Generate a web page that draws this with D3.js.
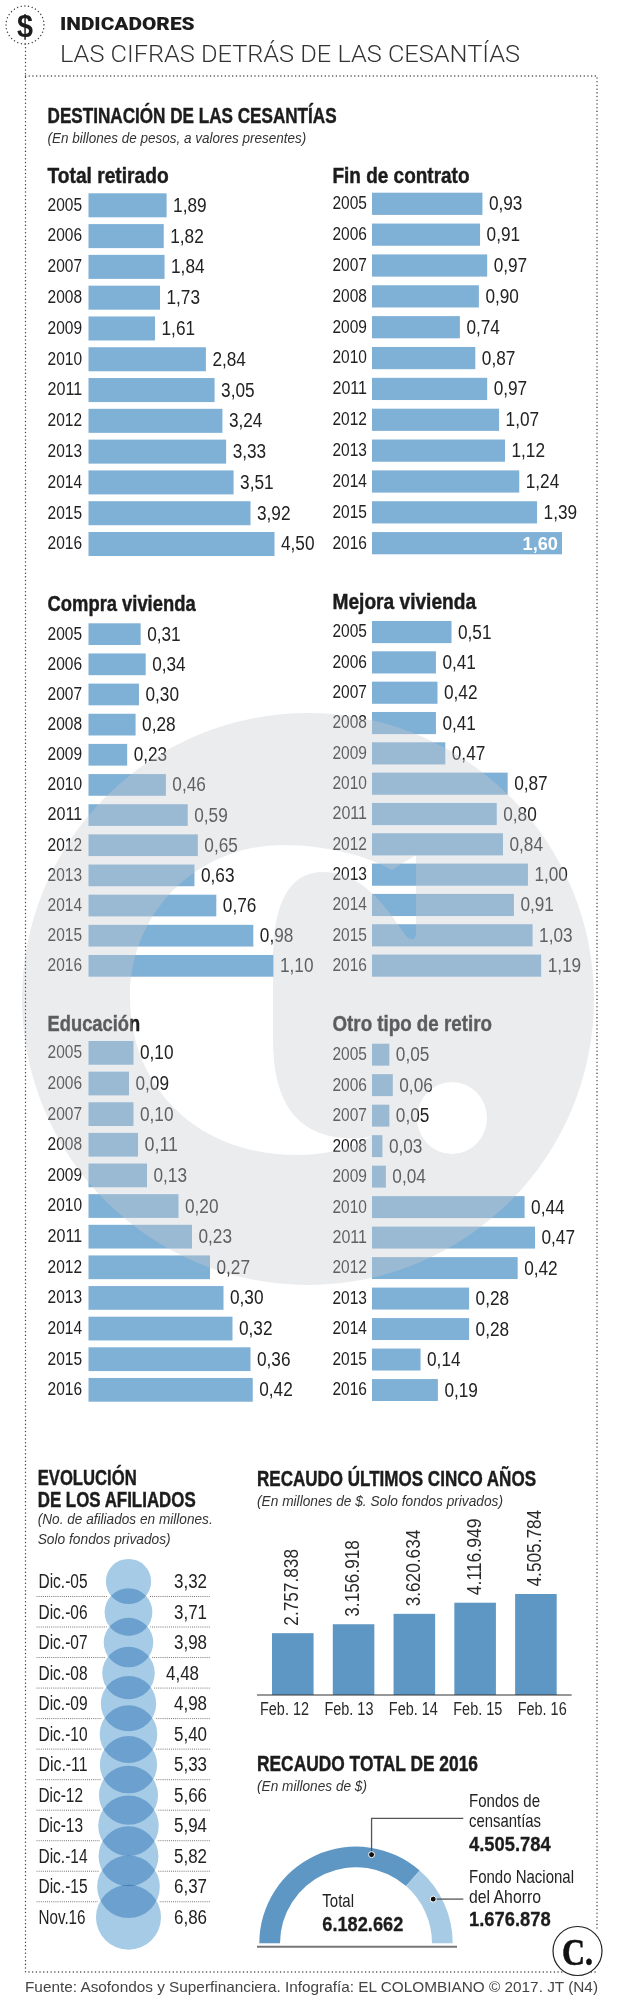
<!DOCTYPE html>
<html lang="es"><head><meta charset="utf-8">
<script src="https://cdn.jsdelivr.net/npm/d3@7"></script>
<style>html,body{margin:0;background:#fff}svg{display:block}text{font-family:"Liberation Sans",Arial,sans-serif;fill:#222}</style>
</head><body><svg id="c" width="617" height="2000" viewBox="0 0 617 2000"></svg>
<script>
// ---- data ----
const years = ["2005","2006","2007","2008","2009","2010","2011","2012","2013","2014","2015","2016"];
const totalRetirado = [1.89,1.82,1.84,1.73,1.61,2.84,3.05,3.24,3.33,3.51,3.92,4.50];
const finContrato   = [0.93,0.91,0.97,0.90,0.74,0.87,0.97,1.07,1.12,1.24,1.39,1.60];
const compraVivienda= [0.31,0.34,0.30,0.28,0.23,0.46,0.59,0.65,0.63,0.76,0.98,1.10];
const mejoraVivienda= [0.51,0.41,0.42,0.41,0.47,0.87,0.80,0.84,1.00,0.91,1.03,1.19];
const educacion     = [0.10,0.09,0.10,0.11,0.13,0.20,0.23,0.27,0.30,0.32,0.36,0.42];
const otroRetiro    = [0.05,0.06,0.05,0.03,0.04,0.44,0.47,0.42,0.28,0.28,0.14,0.19];
// In the picture the last bars of these two panels are drawn shorter than their printed value.
const mejoraDrawn   = [0.51,0.41,0.42,0.41,0.47,0.87,0.80,0.84,1.00,0.91,1.03,1.085];
const educacionDrawn= [0.10,0.09,0.10,0.11,0.13,0.20,0.23,0.27,0.30,0.32,0.36,0.365];

const afilLabels = ["Dic.-05","Dic.-06","Dic.-07","Dic.-08","Dic.-09","Dic.-10","Dic.-11","Dic-12","Dic-13","Dic.-14","Dic.-15","Nov.16"];
const afilValues = [3.32,3.71,3.98,4.48,4.98,5.40,5.33,5.66,5.94,5.82,6.37,6.86];

const recaudoLabels = ["Feb. 12","Feb. 13","Feb. 14","Feb. 15","Feb. 16"];
const recaudoValues = [2757838,3156918,3620634,4116949,4505784];

const gaugeNames  = ["Fondos de censantías","Fondo Nacional del Ahorro"];
const gaugeValues = [4505784,1676878];
const gaugeTotal  = 6182662;

// ---- helpers ----
const locale = d3.formatLocale({decimal:",",thousands:".",grouping:[3],currency:["$",""]});
const f2 = locale.format(".2f"), fInt = locale.format(",d");
const svg = d3.select("#c");
function T(p, s, x, y, o={}) {
  const e = p.append("text").text(s).attr("x",x).attr("y",y)
    .attr("font-size",o.size||18).attr("font-weight",o.weight||400);
  if (o.style) e.attr("font-style",o.style);
  if (o.family) e.style("font-family",o.family);
  if (o.anchor) e.attr("text-anchor",o.anchor);
  if (o.fill) e.style("fill",o.fill);
  if (o.heavy) e.style("stroke",o.fill||"#1c1c1c").style("stroke-width",o.heavy);
  if (o.w) e.attr("textLength",o.w).attr("lengthAdjust","spacingAndGlyphs");
  return e;
}
const DOT = {stroke:"#444", "stroke-width":1.4, "stroke-dasharray":"0.1 3.6", "stroke-linecap":"round", fill:"none"};
function dotted(sel){ Object.entries(DOT).forEach(([k,v])=>sel.attr(k,v)); return sel; }

// ---- header ----
T(svg,"INDICADORES",60,30,{size:18.5,w:134.6,fill:"#1c1c1c",family:"Roboto, 'Liberation Sans'"}).attr("font-weight",900);
T(svg,"LAS CIFRAS DETRÁS DE LAS CESANTÍAS",60,62,{size:24,weight:300,w:460,fill:"#333",family:"Roboto, 'Liberation Sans'"});
T(svg,"DESTINACIÓN DE LAS CESANTÍAS",47.6,123,{size:22.5,weight:700,w:289,fill:"#1c1c1c",heavy:.45});
T(svg,"(En billones de pesos, a valores presentes)",47.6,142.7,{size:15,style:"italic",w:258.6,fill:"#333"});

// ---- small multiples ----
const panels = [
 {name:"Total retirado",   tw:121,  x0:88.5, lx:47.6,  ty:182.7, top:193.3, bottom:556,   pad:.22, vals:totalRetirado,  drawn:totalRetirado,  dMax:4.5,  rMax:186},
 {name:"Fin de contrato",  tw:137,  x0:372,  lx:332.5, ty:182.7, top:192.7, bottom:554.3, pad:.28, vals:finContrato,    drawn:finContrato,    dMax:1.6,  rMax:190, inside:"2016"},
 {name:"Compra vivienda",  tw:148,  x0:88.5, lx:47.6,  ty:610.7, top:623.3, bottom:976.7, pad:.28, vals:compraVivienda, drawn:compraVivienda, dMax:1.1,  rMax:185},
 {name:"Mejora vivienda",  tw:143.6,x0:372,  lx:332.5, ty:609,   top:621,   bottom:976.7, pad:.27, vals:mejoraVivienda, drawn:mejoraDrawn,    dMax:1.03, rMax:160.6},
 {name:"Educación",        tw:92.5, x0:88.5, lx:47.6,  ty:1031,  top:1041,  bottom:1401.7,pad:.225,vals:educacion,      drawn:educacionDrawn, dMax:0.36, rMax:162},
 {name:"Otro tipo de retiro",tw:159.4,x0:372,lx:332.5, ty:1031,  top:1043.7,bottom:1401,  pad:.28, vals:otroRetiro,     drawn:otroRetiro,     dMax:0.47, rMax:163},
];
panels.forEach(p=>{
  const g = svg.append("g");
  const y = d3.scaleBand().domain(years).range([p.top,p.bottom]).paddingInner(p.pad).paddingOuter(0);
  const x = d3.scaleLinear().domain([0,p.dMax]).range([0,p.rMax]);
  T(g,p.name,p.lx,p.ty,{size:22,weight:700,w:p.tw,fill:"#1c1c1c",heavy:.45});
  g.selectAll("rect").data(years).join("rect")
    .attr("x",p.x0).attr("y",d=>y(d)).attr("width",(d,i)=>x(p.drawn[i])).attr("height",y.bandwidth()).attr("fill","#7fb0d6");
  years.forEach((yr,i)=>{
    const cy = y(yr)+y.bandwidth()/2;
    T(g,yr,p.lx,cy+5.4,{size:18.5,w:34.5,fill:"#222"});
    const end = p.x0+x(p.drawn[i]);
    if (p.inside===yr) T(g,f2(p.vals[i]),end-4,cy+6.5,{size:19,weight:700,w:35.5,anchor:"end",fill:"#fff"});
    else T(g,f2(p.vals[i]),end+6.5,cy+6.5,{size:19.5,w:33.5,fill:"#222"});
  });
});

// ---- watermark: a translucent grey disc with the "C." knocked out, laid over the panels ----
const wc=[308,999], wr=286;
const disc=`M${wc[0]-wr} ${wc[1]}a${wr} ${wr} 0 1 0 ${2*wr} 0a${wr} ${wr} 0 1 0 ${-2*wr} 0Z`;
const letter="M416 855L416 934Q415 942 408 938C392 918 368 872 323 872C290 872 273 902 273 960L273 1040C273 1100 295 1134 343 1138C352 1139 362 1139 372 1136C350 1150 322 1155 297 1155C195 1155 130 1085 130 997C130 910 200 845 283 845C330 845 372 858 392 870Z";
const dotHole="M417 1118a35 36 0 1 0 70 0a35 36 0 1 0 -70 0Z";
svg.append("path").attr("d",disc+letter+dotHole).attr("fill-rule","evenodd").attr("fill","rgb(201,204,209)").attr("fill-opacity",.37);

// ---- frame and icon ----
dotted(svg.append("path").attr("d","M25.5 44V1972H598M25.5 76H597V1930"));
dotted(svg.append("circle").attr("cx",25).attr("cy",25).attr("r",19));
T(svg,"$",25,37,{size:32,weight:700,anchor:"middle",w:16,fill:"#1c1c1c"});

// ---- afiliados ----
{
  const g = svg.append("g");
  T(g,"EVOLUCIÓN",37.7,1485.4,{size:22,weight:700,w:99,fill:"#1c1c1c",heavy:.45});
  T(g,"DE LOS AFILIADOS",37.7,1507,{size:22,weight:700,w:158,fill:"#1c1c1c",heavy:.45});
  T(g,"(No. de afiliados en millones.",37.7,1524,{size:15,style:"italic",w:175,fill:"#333"});
  T(g,"Solo fondos privados)",37.7,1544,{size:15,style:"italic",w:133,fill:"#333"});
  const y = d3.scalePoint().domain(afilLabels).range([1581.5,1917.3]);
  const r = d3.scaleSqrt().domain([0,6.86]).range([0,32.5]);
  const valueNudge = {"Dic.-08":-8};
  afilLabels.forEach((l,i)=>{
    if (i<afilLabels.length-1) dotted(g.append("line").attr("x1",37).attr("x2",211).attr("y1",y(l)+15).attr("y2",y(l)+15))
      .attr("stroke-width",1).attr("stroke-dasharray","0.1 2").attr("stroke","#666");
    T(g,l,38.5,y(l)+6.7,{size:19.5,w:l.length>6?49:(l.startsWith("Nov")?47:44.5),fill:"#222"});
    T(g,f2(afilValues[i]),207+(valueNudge[l]||0),y(l)+6.7,{size:20,w:33,anchor:"end",fill:"#222"});
  });
  const cx = 128.5;
  g.append("g").selectAll("circle").data(afilValues).join("circle")
    .attr("cx",cx).attr("cy",(d,i)=>y(afilLabels[i])).attr("r",d=>r(d)+2).attr("fill","#fff");
  g.append("g").style("isolation","isolate").selectAll("circle").data(afilValues).join("circle")
    .attr("cx",cx).attr("cy",(d,i)=>y(afilLabels[i])).attr("r",d=>r(d)).attr("fill","#a6cbe6").style("mix-blend-mode","multiply");
}

// ---- recaudo ultimos cinco años ----
{
  const g = svg.append("g");
  T(g,"RECAUDO ÚLTIMOS CINCO AÑOS",257,1485.7,{size:22.5,weight:700,w:279,fill:"#1c1c1c",heavy:.45});
  T(g,"(En millones de $. Solo fondos privados)",257,1505.7,{size:15,style:"italic",w:246,fill:"#333"});
  const x = d3.scaleBand().domain(recaudoLabels).range([272,556.7]).paddingInner(.316).paddingOuter(0);
  const y = d3.scaleLinear().domain([0,4505784]).range([1695,1594]);
  g.selectAll("rect").data(recaudoValues).join("rect")
    .attr("x",(d,i)=>x(recaudoLabels[i])).attr("y",d=>y(d)).attr("width",x.bandwidth()).attr("height",d=>y(0)-y(d)).attr("fill","#5f97c4");
  recaudoValues.forEach((v,i)=>{
    const cx=x(recaudoLabels[i])+x.bandwidth()/2, yy=y(v)-7.5;
    T(g,fInt(v),0,0,{size:21,w:76.7,fill:"#2a2a2a"}).attr("transform",`translate(${cx+5.5},${yy}) rotate(-90)`);
  });
  const tx = d3.scalePoint().domain(recaudoLabels).range([284,541.7]);
  const ax = g.append("g").attr("transform","translate(0,1695)").call(d3.axisBottom(tx).tickSize(0).tickPadding(8));
  ax.select(".domain").remove();
  ax.selectAll("text").attr("font-size",18).attr("y",0).attr("dy",0).attr("transform","translate(0,20)")
    .attr("textLength",49).attr("lengthAdjust","spacingAndGlyphs").style("fill","#2a2a2a");
  g.append("line").attr("x1",257).attr("x2",571.7).attr("y1",1695).attr("y2",1695).attr("stroke","#333").attr("stroke-width",1.2);
}

// ---- recaudo total ----
{
  const g = svg.append("g");
  T(g,"RECAUDO TOTAL DE 2016",257,1770.7,{size:22.5,weight:700,w:221,fill:"#1c1c1c",heavy:.45});
  T(g,"(En millones de $)",257,1790.7,{size:15,style:"italic",w:110,fill:"#333"});
  const c=[356,1943.3], rO=96.7, rI=76;
  const pie=d3.pie().sort(null).startAngle(-Math.PI/2).endAngle(Math.PI/2)(gaugeValues);
  const arc=d3.arc().innerRadius(rI).outerRadius(rO);
  const cols=["#5f97c4","#a8cbe5"];
  const ag=g.append("g").attr("transform",`translate(${c})`);
  ag.selectAll("path").data(pie).join("path").attr("d",arc).attr("fill",(d,i)=>cols[i]);
  g.append("line").attr("x1",257).attr("x2",457).attr("y1",1946.7).attr("y2",1946.7).attr("stroke","#777").attr("stroke-width",2);
  // leaders anchored on the arc itself
  const at=(d,t,r)=>{const a=d.startAngle+(d.endAngle-d.startAngle)*t;return [c[0]+r*Math.sin(a),c[1]-r*Math.cos(a)];};
  const p1=at(pie[0],.762,90), p2=at(pie[1],.39,89);
  g.append("path").attr("d",`M${p1[0]} ${p1[1]}V1818.3H463.3`).attr("fill","none").attr("stroke","#555").attr("stroke-width",1.3);
  g.append("path").attr("d",`M${p2[0]} ${p2[1]}H463.3`).attr("fill","none").attr("stroke","#555").attr("stroke-width",1.3);
  [p1,p2].forEach(p=>g.append("circle").attr("cx",p[0]).attr("cy",p[1]).attr("r",3).attr("fill","#111").attr("stroke","#fff").attr("stroke-width",1));
  T(g,"Fondos de",469,1807.3,{size:19,w:71,fill:"#222"});
  T(g,"censantías",469,1827.3,{size:19,w:72,fill:"#222"});
  T(g,fInt(gaugeValues[0]),469,1850.7,{size:20.5,weight:700,w:81.7,fill:"#1c1c1c",heavy:.3});
  T(g,"Fondo Nacional",469,1882.7,{size:19,w:105,fill:"#222"});
  T(g,"del Ahorro",469,1902.7,{size:19,w:72,fill:"#222"});
  T(g,fInt(gaugeValues[1]),469,1925.7,{size:20.5,weight:700,w:81.7,fill:"#1c1c1c",heavy:.3});
  T(g,"Total",322.3,1906.7,{size:19,w:31.7,fill:"#222"});
  T(g,fInt(gaugeTotal),322.3,1930.7,{size:20.5,weight:700,w:81,fill:"#1c1c1c",heavy:.3});
}

// ---- logo and footer ----
svg.append("circle").attr("cx",577.5).attr("cy",1951).attr("r",24.5).attr("fill","#fff").attr("stroke","#222").attr("stroke-width",1.2);
T(svg,"C.",562,1965,{size:38,weight:700,w:31,fill:"#111",heavy:.6,family:"'Liberation Serif',serif"});
T(svg,"Fuente: Asofondos y Superfinanciera. Infografía: EL COLOMBIANO © 2017. JT (N4)",25,1992,{size:14.5,w:573,fill:"#444"});
</script></body></html>
